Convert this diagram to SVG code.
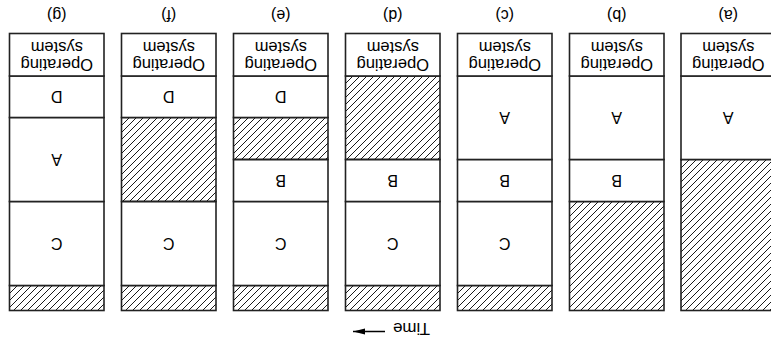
<svg xmlns="http://www.w3.org/2000/svg" width="771" height="344" viewBox="0 0 771 344">
<defs>
<pattern id="hatch" patternUnits="userSpaceOnUse" width="7" height="7">
<path d="M-1,1 L1,-1 M0,7 L7,0 M6,8 L8,6" stroke="#000" stroke-width="0.9"/>
</pattern>
<marker id="arr" markerWidth="12" markerHeight="8" refX="12" refY="4" orient="auto" markerUnits="userSpaceOnUse">
<path d="M0,1 L12,4 L0,7 Z" fill="#000"/>
</marker>
</defs>
<style>
.box{fill:#fff;stroke:#222;stroke-width:1.6}
.h{fill:url(#hatch);stroke:#222;stroke-width:1.6}
.t{font-family:"Liberation Sans",Arial,sans-serif;font-size:16px;fill:#000;text-anchor:middle}
.os{font-family:"Liberation Sans",Arial,sans-serif;font-size:16.5px;fill:#000;text-anchor:middle}
.lbl{font-family:"Liberation Sans",Arial,sans-serif;font-size:16px;fill:#000;text-anchor:middle}
.tm{font-family:"Liberation Sans",Arial,sans-serif;font-size:17px;fill:#000;text-anchor:middle}
</style>
<rect width="771" height="344" fill="#fff"/>
<g transform="rotate(180 385.5 172)">
<g id="col-a">
<rect class="h" x="-4.5" y="33.5" width="94.5" height="151"/>
<rect class="box" x="-4.5" y="184.5" width="94.5" height="83.5"/>
<text class="t" x="42.75" y="232">A</text>
<rect class="box" x="-4.5" y="268" width="94.5" height="42.5"/>
<text class="os" x="42.75" y="285">Operating</text>
<text class="os" x="42.75" y="302.5">system</text>
<text class="lbl" x="42.75" y="334">(a)</text>
</g>
<g id="col-b">
<rect class="h" x="107" y="33.5" width="94.5" height="109"/>
<rect class="box" x="107" y="142.5" width="94.5" height="42"/>
<text class="t" x="154.25" y="169.3">B</text>
<rect class="box" x="107" y="184.5" width="94.5" height="83.5"/>
<text class="t" x="154.25" y="232">A</text>
<rect class="box" x="107" y="268" width="94.5" height="42.5"/>
<text class="os" x="154.25" y="285">Operating</text>
<text class="os" x="154.25" y="302.5">system</text>
<text class="lbl" x="154.25" y="334">(b)</text>
</g>
<g id="col-c">
<rect class="h" x="219" y="33.5" width="94.5" height="25"/>
<rect class="box" x="219" y="58.5" width="94.5" height="84"/>
<text class="t" x="266.25" y="106.3">C</text>
<rect class="box" x="219" y="142.5" width="94.5" height="42"/>
<text class="t" x="266.25" y="169.3">B</text>
<rect class="box" x="219" y="184.5" width="94.5" height="83.5"/>
<text class="t" x="266.25" y="232">A</text>
<rect class="box" x="219" y="268" width="94.5" height="42.5"/>
<text class="os" x="266.25" y="285">Operating</text>
<text class="os" x="266.25" y="302.5">system</text>
<text class="lbl" x="266.25" y="334">(c)</text>
</g>
<g id="col-d">
<rect class="h" x="331" y="33.5" width="94.5" height="25"/>
<rect class="box" x="331" y="58.5" width="94.5" height="84"/>
<text class="t" x="378.25" y="106.3">C</text>
<rect class="box" x="331" y="142.5" width="94.5" height="42"/>
<text class="t" x="378.25" y="169.3">B</text>
<rect class="h" x="331" y="184.5" width="94.5" height="83.5"/>
<rect class="box" x="331" y="268" width="94.5" height="42.5"/>
<text class="os" x="378.25" y="285">Operating</text>
<text class="os" x="378.25" y="302.5">system</text>
<text class="lbl" x="378.25" y="334">(d)</text>
</g>
<g id="col-e">
<rect class="h" x="443" y="33.5" width="94.5" height="25"/>
<rect class="box" x="443" y="58.5" width="94.5" height="84"/>
<text class="t" x="490.25" y="106.3">C</text>
<rect class="box" x="443" y="142.5" width="94.5" height="42"/>
<text class="t" x="490.25" y="169.3">B</text>
<rect class="h" x="443" y="184.5" width="94.5" height="42"/>
<rect class="box" x="443" y="226.5" width="94.5" height="41.5"/>
<text class="t" x="490.25" y="253">D</text>
<rect class="box" x="443" y="268" width="94.5" height="42.5"/>
<text class="os" x="490.25" y="285">Operating</text>
<text class="os" x="490.25" y="302.5">system</text>
<text class="lbl" x="490.25" y="334">(e)</text>
</g>
<g id="col-f">
<rect class="h" x="555" y="33.5" width="94.5" height="25"/>
<rect class="box" x="555" y="58.5" width="94.5" height="84"/>
<text class="t" x="602.25" y="106.3">C</text>
<rect class="h" x="555" y="142.5" width="94.5" height="84"/>
<rect class="box" x="555" y="226.5" width="94.5" height="41.5"/>
<text class="t" x="602.25" y="253">D</text>
<rect class="box" x="555" y="268" width="94.5" height="42.5"/>
<text class="os" x="602.25" y="285">Operating</text>
<text class="os" x="602.25" y="302.5">system</text>
<text class="lbl" x="602.25" y="334">(f)</text>
</g>
<g id="col-g">
<rect class="h" x="667" y="33.5" width="94.5" height="25"/>
<rect class="box" x="667" y="58.5" width="94.5" height="84"/>
<text class="t" x="714.25" y="106.3">C</text>
<rect class="box" x="667" y="142.5" width="94.5" height="84"/>
<text class="t" x="714.25" y="190.3">A</text>
<rect class="box" x="667" y="226.5" width="94.5" height="41.5"/>
<text class="t" x="714.25" y="253">D</text>
<rect class="box" x="667" y="268" width="94.5" height="42.5"/>
<text class="os" x="714.25" y="285">Operating</text>
<text class="os" x="714.25" y="302.5">system</text>
<text class="lbl" x="714.25" y="334">(g)</text>
</g>
<g id="connectors">
<text class="tm" x="359.5" y="21">Time</text>
<line x1="386" y1="12.5" x2="418" y2="12.5" stroke="#000" stroke-width="1.5" marker-end="url(#arr)"/>
</g>
</g>
</svg>
